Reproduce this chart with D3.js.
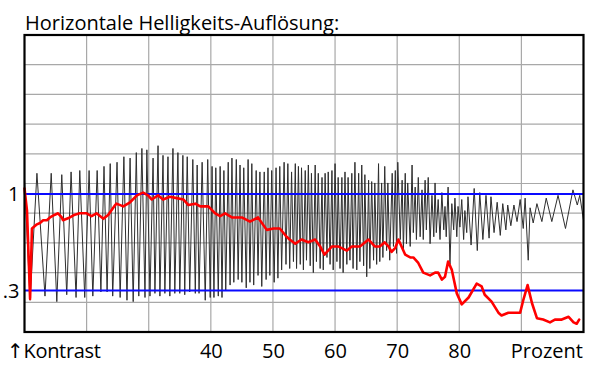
<!DOCTYPE html>
<html>
<head>
<meta charset="utf-8">
<script src="https://cdn.jsdelivr.net/npm/d3@7"></script>
<style>
  html, body { margin: 0; padding: 0; background: #fff; }
  svg { display: block; font-family: "Open Sans", "DejaVu Sans", sans-serif; }
</style>
</head>
<body>
<script>

// x = Prozent (10..100), y = Kontrast
const xTicks = [40, 50, 60, 70, 80];
const xGrid = [20, 30, 40, 50, 60, 70, 80, 90];
const refLevels = [1, 0.3];

// grey: horizontal brightness response (peaks / troughs as read)
const greyPct = [
  10.0, 10.9, 12.0, 13.3, 14.3, 15.2, 16.0, 16.8, 17.5, 18.3, 18.9, 19.7, 20.4, 21.0, 21.7, 22.3, 22.8, 23.3, 23.8,
  24.2, 24.9, 25.4, 26.0, 26.5, 27.0, 27.5, 28.0, 28.4, 28.9, 29.4, 29.7, 30.2, 30.7, 31.0, 31.5, 31.8, 32.3, 32.6,
  33.1, 33.4, 33.9, 34.2, 34.7, 35.0, 35.5, 35.8, 36.2, 36.6, 37.1, 37.5, 37.8, 38.1, 38.6, 39.1,
  39.5, 39.9, 40.2, 40.5, 40.8, 41.2, 41.5, 41.8, 42.1, 42.4, 42.8, 43.1, 43.4, 43.7, 44.1, 44.4, 44.7, 45.0,
  45.3, 45.7, 46.0, 46.3, 46.6, 46.9, 47.3, 47.6, 47.9, 48.2, 48.6, 48.9, 49.2, 49.5, 49.8, 50.2, 50.5, 50.8,
  51.1, 51.4, 51.8, 52.1, 52.4, 52.7,
  53.0, 53.3, 53.6, 53.8, 54.1, 54.4, 54.6, 54.9, 55.2, 55.4, 55.7, 56.0, 56.2, 56.5, 56.8, 57.0, 57.3, 57.6,
  57.9, 58.1, 58.4, 58.7, 58.9, 59.2, 59.5, 59.7, 60.0, 60.3, 60.5, 60.8, 61.1, 61.3, 61.6, 61.9, 62.1, 62.4,
  62.7, 62.9, 63.2, 63.5, 63.8, 64.0, 64.3, 64.6, 64.8, 65.1, 65.4, 65.6, 65.9, 66.2, 66.4, 66.7, 67.0, 67.2, 67.5,
  67.7, 68.0, 68.3, 68.5, 68.8, 69.2, 69.4, 69.7, 69.9, 70.1, 70.5, 70.8, 71.0, 71.3, 71.5, 71.7, 72.1, 72.4,
  72.6, 72.9, 73.1, 73.4, 73.7, 74.0, 74.2, 74.5, 74.7, 75.0, 75.3, 75.6, 75.9, 76.1, 76.3, 76.6, 76.9, 77.2,
  77.5, 77.7, 77.9, 78.2, 78.5, 78.8, 79.1, 79.3, 79.6, 79.8, 80.1, 80.4, 80.7, 80.9, 81.2, 81.4,
  81.9, 82.4, 82.9, 83.3, 83.8, 84.3, 84.8, 85.1, 85.6, 86.1, 86.6, 87.0, 87.5, 87.8, 88.3, 88.8, 89.3, 89.8,
  90.3, 90.6, 91.1, 91.4, 91.9, 92.5, 93.3, 94.0, 94.9, 95.9, 97.1, 98.3, 99.0, 99.4, 100.0
];
const greyVal = [
  1.10, 0.23, 1.15, 0.26, 1.15, 0.22, 1.14, 0.27, 1.16, 0.25, 1.17, 0.25, 1.17, 0.26, 1.17, 0.29, 1.20, 0.29, 1.22,
  0.26, 1.23, 0.25, 1.27, 0.23, 1.26, 0.22, 1.30, 0.26, 1.33, 0.25, 1.32, 0.26, 1.26, 0.28, 1.35, 0.26, 1.28, 0.28,
  1.27, 0.26, 1.33, 0.28, 1.30, 0.28, 1.28, 0.27, 1.27, 0.29, 1.25, 0.28, 1.21, 0.28, 1.23, 0.23,
  1.25, 0.25, 1.20, 0.25, 1.19, 0.26, 1.20, 0.25, 1.17, 0.30, 1.23, 0.34, 1.26, 0.36, 1.25, 0.38, 1.21, 0.36,
  1.19, 0.32, 1.25, 0.36, 1.22, 0.34, 1.17, 0.41, 1.16, 0.33, 1.16, 0.38, 1.19, 0.41, 1.17, 0.36, 1.19, 0.39,
  1.20, 0.45, 1.23, 0.49, 1.22, 0.46,
  1.16, 0.51, 1.22, 0.46, 1.20, 0.49, 1.19, 0.45, 1.17, 0.52, 1.21, 0.48, 1.15, 0.43, 1.21, 0.51, 1.15, 0.46,
  1.12, 0.45, 1.15, 0.54, 1.16, 0.49, 1.17, 0.45, 1.22, 0.51, 1.12, 0.46, 1.12, 0.43, 1.16, 0.49, 1.12, 0.52,
  1.15, 0.46, 1.23, 0.45, 1.15, 0.51, 1.21, 0.48, 1.14, 0.40, 1.10, 0.46, 1.09, 0.52, 1.08, 0.49, 1.22, 0.51, 1.08,
  0.54, 1.20, 0.59, 1.08, 0.52, 1.15, 0.62, 1.17, 0.57, 1.23, 0.67, 1.10, 0.59, 1.15, 0.64, 1.08, 0.62, 1.21,
  0.72, 1.05, 0.67, 1.12, 0.69, 1.03, 0.67, 1.10, 0.74, 1.12, 0.64, 0.99, 0.69, 1.08, 0.72, 0.96, 0.67, 1.01,
  0.74, 0.91, 0.69, 1.05, 0.49, 0.93, 0.74, 0.97, 0.69, 0.91, 0.76, 0.96, 0.67, 0.88, 0.72, 0.98,
  0.63, 1.04, 0.59, 1.01, 0.67, 0.99, 0.68, 0.98, 0.72, 0.94, 0.70, 0.93, 0.74, 0.92, 0.77, 0.92, 0.80, 0.96,
  0.75, 0.97, 0.52, 0.90, 0.79, 0.93, 0.80, 0.97, 0.80, 0.99, 0.75, 1.03, 0.92, 0.99, 0.81
];

// red: averaged contrast
const redPct = [
  10.0, 10.4, 10.9, 11.2, 12.0, 12.5, 13.0, 13.6, 14.1, 14.9, 15.4, 16.0, 16.2, 17.3, 18.1, 18.9, 20.0, 20.8,
  21.6, 22.7, 23.5, 24.6, 24.8, 25.9, 27.0, 28.1, 29.1, 29.9, 30.5, 31.5, 32.3, 33.4, 34.5, 35.6, 36.4, 37.5,
  38.3, 39.6, 40.7, 41.5, 42.3, 43.4, 45.0, 46.3, 47.6, 49.0, 50.1, 51.1, 52.2, 52.7, 53.6, 54.6, 55.7, 56.8,
  57.6, 58.3, 59.5, 60.5, 61.9, 62.7, 64.0, 65.4, 66.4, 67.2, 68.0, 68.6, 69.1, 69.7, 70.2, 71.3, 72.1, 72.6,
  73.4, 74.2, 75.3, 76.1, 76.6, 77.2, 77.7, 78.2, 78.8, 79.6, 80.4, 81.5, 82.8, 83.6, 84.1, 85.2, 86.3, 86.8,
  87.9, 88.7, 89.8, 90.3, 91.0, 91.7, 92.5, 93.5, 94.6, 95.4, 96.5, 97.6, 98.4, 98.9, 99.3
];
const redVal = [
  1.04, 0.88, 0.24, 0.75, 0.78, 0.79, 0.81, 0.81, 0.83, 0.85, 0.86, 0.83, 0.81, 0.83, 0.85, 0.86, 0.86, 0.84,
  0.86, 0.82, 0.85, 0.92, 0.93, 0.91, 0.94, 0.99, 1.01, 0.99, 0.96, 0.99, 0.96, 0.98, 0.97, 0.96, 0.92, 0.93,
  0.91, 0.91, 0.86, 0.84, 0.86, 0.83, 0.83, 0.80, 0.83, 0.74, 0.75, 0.75, 0.69, 0.67, 0.64, 0.67, 0.65, 0.67,
  0.62, 0.56, 0.62, 0.62, 0.59, 0.62, 0.62, 0.67, 0.62, 0.62, 0.65, 0.62, 0.58, 0.61, 0.67, 0.56, 0.54, 0.54,
  0.50, 0.43, 0.41, 0.43, 0.43, 0.38, 0.40, 0.51, 0.45, 0.28, 0.20, 0.25, 0.35, 0.33, 0.27, 0.22, 0.14, 0.12,
  0.14, 0.14, 0.14, 0.23, 0.34, 0.21, 0.10, 0.09, 0.07, 0.09, 0.09, 0.11, 0.07, 0.06, 0.09
];

const w = 600;
const h = 367;
const plotLeft = 24.5, plotRight = 583.5, plotTop = 35, plotBottom = 332;

const svg = d3.select('body').append('svg')
              .attr('width', w)
              .attr('height', h);

svg.append('rect').attr('width', w).attr('height', h).attr('fill', '#fff');

const xScale = d3.scaleLinear().domain([10, 100]).range([plotLeft, plotRight]);
const yScale = d3.scaleLinear().domain([0, 2.152]).range([plotBottom, plotTop]);

// grid
const grid = svg.append('g').attr('stroke', '#a8a8a8').attr('stroke-width', 1.2);
grid.selectAll('line.v')
    .data(xGrid)
    .enter().append('line')
    .attr('x1', d => xScale(d)).attr('x2', d => xScale(d))
    .attr('y1', plotTop).attr('y2', plotBottom);
grid.selectAll('line.h')
    .data(d3.range(1, 10))
    .enter().append('line')
    .attr('x1', plotLeft).attr('x2', plotRight)
    .attr('y1', i => plotTop + i * (plotBottom - plotTop) / 10)
    .attr('y2', i => plotTop + i * (plotBottom - plotTop) / 10);

const greyData = greyPct.map((p, i) => [p, greyVal[i]]);
const redData = redPct.map((p, i) => [p, redVal[i]]);

const line = d3.line().x(d => xScale(d[0])).y(d => yScale(d[1]));

svg.append('path')
   .datum(greyData)
   .attr('d', line)
   .attr('fill', 'none')
   .attr('stroke', '#2e2e2e')
   .attr('stroke-width', 1)
   .attr('stroke-linejoin', 'round');

// blue reference levels
svg.selectAll('line.ref')
   .data(refLevels)
   .enter().append('line')
   .attr('x1', plotLeft).attr('x2', plotRight)
   .attr('y1', d => yScale(d)).attr('y2', d => yScale(d))
   .attr('stroke', '#0a0aff')
   .attr('stroke-width', 2);

svg.append('path')
   .datum(redData)
   .attr('d', line)
   .attr('fill', 'none')
   .attr('stroke', '#ff0000')
   .attr('stroke-width', 2.6)
   .attr('stroke-linejoin', 'round')
   .attr('stroke-linecap', 'round');

// frame
svg.append('rect')
   .attr('x', plotLeft).attr('y', plotTop)
   .attr('width', plotRight - plotLeft).attr('height', plotBottom - plotTop)
   .attr('fill', 'none')
   .attr('stroke', '#000')
   .attr('stroke-width', 2.2);

// axes
const xAxis = d3.axisBottom(xScale).tickValues(xTicks).tickSize(0).tickPadding(12);
const gx = svg.append('g').attr('transform', 'translate(0,' + plotBottom + ')').call(xAxis);
gx.select('.domain').remove();
gx.selectAll('text').attr('font-size', 20).attr('fill', '#000').style('font-family', '"Open Sans", sans-serif');

const yAxis = d3.axisLeft(yScale).tickValues(refLevels).tickSize(0).tickPadding(5)
                .tickFormat(d => d === 1 ? '1' : '.3');
const gy = svg.append('g').attr('transform', 'translate(' + plotLeft + ',0)').call(yAxis);
gy.select('.domain').remove();
gy.selectAll('text').attr('font-size', 20).attr('fill', '#000').style('font-family', '"Open Sans", sans-serif');

svg.append('text')
   .text('Horizontale Helligkeits-Auflösung:')
   .attr('x', 25).attr('y', 30)
   .attr('font-size', 20);

svg.append('text')
   .text('↑Kontrast')
   .attr('x', 7).attr('y', 358)
   .attr('font-size', 20)
   .attr('letter-spacing', -0.3);

svg.append('text')
   .text('Prozent')
   .attr('x', 583).attr('y', 358)
   .attr('text-anchor', 'end')
   .attr('font-size', 20);

</script>
</body>
</html>
